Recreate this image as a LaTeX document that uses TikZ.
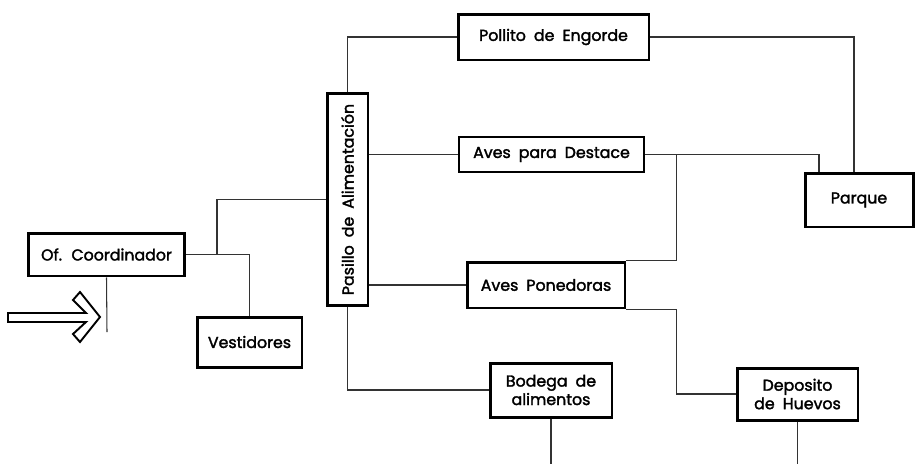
\documentclass[tikz,border=0pt]{standalone}
\usepackage{fontspec}
\setmainfont{Poppins}[WordSpace={1.9}, FakeBold=2]
\usepackage{graphicx}
\usepackage{tikz}
\usetikzlibrary{calc}
\tikzset{
  area/.style={draw, line width=1.7pt, inner sep=2pt, align=center,
               font=\fontsize{9}{10.5}\selectfont},
  areathin/.style={area, line width=0.8pt},
  link/.style={draw=black!80, line width=0.6pt}
}

\begin{document}
\begin{tikzpicture}[x=0.02cm, y=-0.02cm]
\useasboundingbox (0,0) rectangle (915,464);
% areas
\node[area, minimum width=3.14cm, minimum height=0.86cm] (coord) at (106.5,254.5) {Of. Coordinador};
\node[area, minimum width=2.1cm, minimum height=1cm] (vest) at (249.5,342) {Vestidores};
\node[area, minimum width=0.82cm, minimum height=4.26cm] (pasillo) at (347.5,199.5) {\rotatebox{90}{Pasillo de Alimentación}};
\node[area, minimum width=3.82cm, minimum height=0.92cm] (pollito) at (553.5,37) {Pollito de Engorde};
\node[areathin, minimum width=3.7cm, minimum height=0.7cm] (destace) at (551.5,154.5) {Aves para Destace};
\node[area, minimum width=3.16cm, minimum height=0.92cm] (ponedoras) at (546,285) {Aves Ponedoras};
\node[area, minimum width=2.16cm, minimum height=1.08cm] (parque) at (859,200) {Parque};
\node[area, minimum width=2.44cm, minimum height=1.08cm] (bodega) at (551,390) {Bodega de\\alimentos};
\node[area, minimum width=2.42cm, minimum height=1.04cm] (deposito) at (797.5,394) {Deposito\\de Huevos};
\coordinate (coordend) at (107,332);
\coordinate (bodegaend) at (551,464);
\coordinate (depositoend) at (797.5,464);
\coordinate (joint) at (217,254.5);
% entrance arrow
\draw[line width=1.1pt, line join=miter] (8,313) -- (86,313) -- (73,300) -- (80,292) -- (100,317)
  -- (80,342) -- (73,334) -- (86,322) -- (8,322) -- cycle;
% connectors
\draw[link] (coord.south) -- (coordend);
\draw[link] (coord.east) -| (vest.north);
\draw[link] (joint) |- (pasillo.west);
\draw[link] (pasillo.north) |- (pollito.west);
\draw[link] (pasillo.east |- destace.west) -- (destace.west);
\draw[link] (pasillo.east |- ponedoras.west) -- (ponedoras.west);
\draw[link] (pasillo.south) |- (bodega.west);
\draw[link] (pollito.east) -| ($(parque.north)+(-5,0)$);
\draw[link] (destace.east) -| ($(parque.north)+(-40,0)$);
\draw[link] (ponedoras.north east) -| ($(destace.east)+(32,0)$);
\draw[link] (ponedoras.south east) -| ($(deposito.west)+(-59,0)$) -- (deposito.west);
\draw[link] (bodega.south) -- (bodegaend);
\draw[link] (deposito.south) -- (depositoend);
\end{tikzpicture}
\end{document}
